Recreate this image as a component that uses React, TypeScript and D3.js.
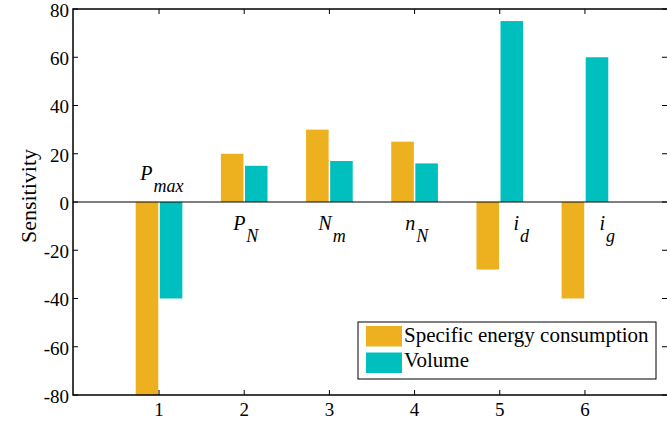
import * as d3 from "d3";

const categories = [1, 2, 3, 4, 5, 6];
const energy = [-80, 20, 30, 25, -28, -40];
const volume = [-40, 15, 17, 16, 75, 60];
const yTicks = [-80, -60, -40, -20, 0, 20, 40, 60, 80];
const labelMain = ["P", "P", "N", "n", "i", "i"];
const labelSub = ["max", "N", "m", "N", "d", "g"];
const labelX = [0.78, 1.87, 2.87, 3.89, 5.16, 6.17];
const labelY = [9, -11.6, -11.6, -11.6, -11.6, -11.6];
const seriesNames = ["Specific energy consumption", "Volume"];
const colors = ["#EDB120", "#00BFBF"];

const W = 667;
const H = 423;
const margin = { top: 9, bottom: 28, left: 73, right: -1 };
const font = "Liberation Serif, Times New Roman, Times, serif";

const App = () => {
  const x = d3
    .scaleLinear()
    .domain([-0.01, 6.975])
    .range([margin.left, W - margin.right]);
  const y = d3
    .scaleLinear()
    .domain([-80, 80])
    .range([H - margin.bottom, margin.top]);

  const barW = x(1) - x(0.735);
  const gap = 1.5;
  const top = margin.top;
  const bottom = H - margin.bottom;
  const left = margin.left;
  const right = W - margin.right;
  const tk = 5;

  return (
    <svg
      width={W}
      height={H}
      style={{ position: "absolute", left: 0, top: 0, background: "#fff", fontFamily: font }}
    >
      {/* bars */}
      <g>
        {categories.map((c, i) => (
          <g key={c}>
            <rect
              x={x(c) - barW - gap / 2}
              width={barW}
              y={y(Math.max(0, energy[i]))}
              height={Math.abs(y(energy[i]) - y(0))}
              fill={colors[0]}
            />
            <rect
              x={x(c) + gap / 2}
              width={barW}
              y={y(Math.max(0, volume[i]))}
              height={Math.abs(y(volume[i]) - y(0))}
              fill={colors[1]}
            />
          </g>
        ))}
      </g>
      {/* zero line */}
      <line x1={left} x2={right} y1={y(0)} y2={y(0)} stroke="#000" strokeWidth={1.2} />
      {/* box */}
      <rect
        x={left}
        y={top}
        width={right - left}
        height={bottom - top}
        fill="none"
        stroke="#000"
        strokeWidth={1.5}
      />
      {/* y ticks */}
      <g>
        {yTicks.map((t) => (
          <g key={t}>
            <line x1={left} x2={left + tk} y1={y(t)} y2={y(t)} stroke="#000" />
            <line x1={right - tk - 1} x2={right} y1={y(t)} y2={y(t)} stroke="#000" />
            <text
              x={left - 4}
              y={y(t)}
              dy="0.42em"
              textAnchor="end"
              fontSize={19}
            >
              {t}
            </text>
          </g>
        ))}
      </g>
      {/* x ticks */}
      <g>
        {categories.map((c) => (
          <g key={c}>
            <line x1={x(c)} x2={x(c)} y1={bottom} y2={bottom - tk} stroke="#000" />
            <line x1={x(c)} x2={x(c)} y1={top} y2={top + tk} stroke="#000" />
            <text x={x(c)} y={bottom + 21} textAnchor="middle" fontSize={19}>
              {c}
            </text>
          </g>
        ))}
      </g>
      {/* y label */}
      <text
        transform={`translate(36,196) rotate(-90)`}
        textAnchor="middle"
        fontSize={22}
      >
        Sensitivity
      </text>
      {/* bar labels */}
      <g fontStyle="italic">
        {categories.map((c, i) => (
          <text key={c} x={x(labelX[i])} y={y(labelY[i])} fontSize={20}>
            {labelMain[i]}
            <tspan dx={1} dy={12} fontSize={18}>
              {labelSub[i]}
            </tspan>
          </text>
        ))}
      </g>
      {/* legend */}
      <g>
        <rect x={358} y={322} width={298} height={57} fill="#fff" stroke="#000" strokeWidth={1} />
        {seriesNames.map((s, i) => (
          <g key={s}>
            <rect x={366} y={326 + i * 26.5} width={36} height={20.5} fill={colors[i]} />
            <text x={404} y={342 + i * 24.5} fontSize={21}>
              {s}
            </text>
          </g>
        ))}
      </g>
    </svg>
  );
};

export default App;
